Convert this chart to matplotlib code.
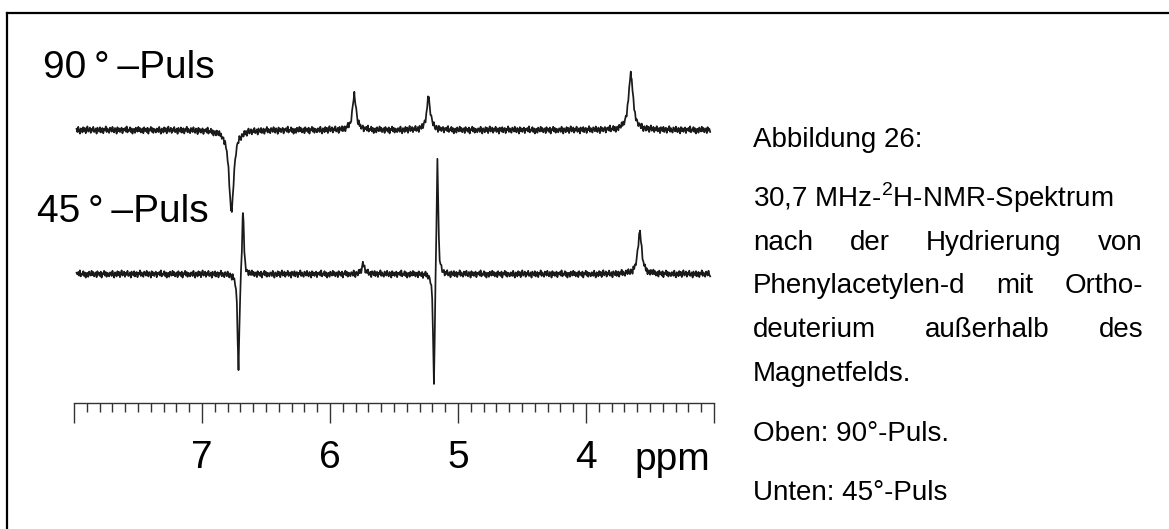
import numpy as np
import matplotlib

matplotlib.use("Agg")
import matplotlib.pyplot as plt
from matplotlib.lines import Line2D

plt.rcParams["font.family"] = ["Liberation Sans", "DejaVu Sans"]

# --- data (ppm, intensity in arbitrary units, half width in ppm)
ppm_ticks = [8.0, 7, 6, 5, 4, 3.0]
ppm_tick_labels = ["", "7", "6", "5", "4", ""]

pos_90 = [6.77, 5.81, 5.23, 3.65]
amp_90 = [-82, 35, 32, 56]
hw_90 = [0.022, 0.017, 0.017, 0.021]

pos_45 = [6.715, 6.68, 5.188, 5.161, 5.74, 3.58]
amp_45 = [-100, 68, -119, 122, 9, 42]
hw_45 = [0.009, 0.009, 0.008, 0.008, 0.015, 0.018]

# baseline noise texture, typed by hand
noise_pattern = [0.3, -0.5, 0.8, -0.2, -0.9, 0.4, 0.1, -0.6, 0.7, -0.3, 0.5, -0.8,
                 0.2, 0.9, -0.4, -0.1, 0.6, -0.7, 0.3, -0.2, 0.8, -0.5, -0.3, 0.4,
                 -0.9, 0.6, 0.1, -0.4, 0.7, -0.6, 0.2, 0.5, -0.8, 0.3, -0.1, 0.9,
                 -0.5, 0.4, -0.3, -0.7, 0.6, 0.2, -0.4, 0.8, -0.2, -0.6, 0.5, 0.1,
                 -0.9, 0.7, -0.3, 0.4, -0.5, 0.2, 0.6, -0.8, 0.3, -0.1, 0.5, -0.4,
                 0.9, -0.6, 0.1, -0.2, 0.7, -0.5, 0.4, -0.9, 0.2, 0.3, -0.7, 0.6,
                 -0.1, -0.4, 0.8, -0.3, 0.5, -0.6, 0.1, 0.4, -0.8, 0.7, -0.2, 0.3,
                 -0.5, 0.6, -0.9, 0.2, -0.1, 0.8, -0.4, 0.5, -0.7, 0.3, 0.1, -0.6, 0.4]

caption_lines = [
    "Abbildung 26:",
    r"30,7 MHz-$^\mathregular{2}$H-NMR-Spektrum",
    "nach der Hydrierung von",
    "Phenylacetylen-d mit Ortho-",
    "deuterium außerhalb des",
    "Magnetfelds.",
    "Oben: 90°-Puls.",
    "Unten: 45°-Puls",
]
caption_justify = [False, False, True, True, True, False, False, False]
caption_baselines = [147, 207, 250, 293, 337, 381, 441, 500]

W, H = 1169, 529


def spectrum(x, pos, amp, hw, noise_shift):
    y = np.zeros_like(x)
    for p, a, w in zip(pos, amp, hw):
        y += a / (1 + ((x - p) / w) ** 2)
    noise = np.resize(np.roll(noise_pattern, noise_shift), len(x))
    return y + 4.0 * noise


fig = plt.figure(figsize=(W / 100, H / 100), dpi=100)

ax = fig.add_axes([74 / W, 1 - 403 / H, 640 / W, 390 / H])
ax.set_xlim(8.0, 3.0)
ax.set_ylim(0, 390)

# trace grid, with peak centres included so the sharp tips are drawn
x90 = np.sort(np.concatenate([np.linspace(7.98, 3.03, 760), pos_90]))[::-1]
x45 = np.sort(np.concatenate([np.linspace(7.98, 3.03, 760), pos_45]))[::-1]
ax.plot(x90, 273 + spectrum(x90, pos_90, amp_90, hw_90, 0), color="#1a1a1a", lw=1.25)
ax.plot(x45, 129 + spectrum(x45, pos_45, amp_45, hw_45, 41), color="#1a1a1a", lw=1.25)

# ruler
for s in ["left", "top", "right"]:
    ax.spines[s].set_visible(False)
ax.spines["bottom"].set_color("#333333")
ax.spines["bottom"].set_linewidth(1.0)
ax.set_yticks([])
ax.set_xticks(ppm_ticks)
ax.set_xticklabels(ppm_tick_labels, fontsize=28)
ax.set_xticks(np.arange(31, 80) / 10, minor=True)
ax.tick_params(axis="x", which="major", direction="out", length=14.5, width=1.0,
               color="#333333", pad=12)
ax.tick_params(axis="x", which="minor", direction="out", length=6.5, width=1.0,
               color="#333333")
fig.text(672 / W, 1 - 470 / H, "ppm", fontsize=28, ha="center", va="baseline")

# trace labels
fig.text(43 / W, 1 - 78 / H, "90\u2009°\u2009–Puls", fontsize=28, va="baseline")
fig.text(37 / W, 1 - 222 / H, "45\u2009°\u2009–Puls", fontsize=28, va="baseline")

# caption, justified block between x=753 and x=1143
renderer = fig.canvas.get_renderer()
x_left, x_right = 753, 1143
for line, just, yb in zip(caption_lines, caption_justify, caption_baselines):
    yf = 1 - yb / H
    if not just:
        fig.text(x_left / W, yf, line, fontsize=20, va="baseline")
        continue
    words = line.split()
    texts = [fig.text(0, yf, w, fontsize=20, va="baseline") for w in words]
    widths = [t.get_window_extent(renderer).width for t in texts]
    gap = (x_right - x_left - sum(widths)) / (len(words) - 1)
    xp = x_left
    for t, w in zip(texts, widths):
        t.set_x(xp / W)
        xp += w + gap

# frame (only the left and top edges fall inside the picture)
fig.add_artist(Line2D([7 / W, 7 / W], [0, 1 - 13 / H], transform=fig.transFigure,
                      color="black", lw=1.6))
fig.add_artist(Line2D([7 / W, 1], [1 - 13 / H, 1 - 13 / H], transform=fig.transFigure,
                      color="black", lw=1.6))

fig.savefig("out.png", dpi=100)
